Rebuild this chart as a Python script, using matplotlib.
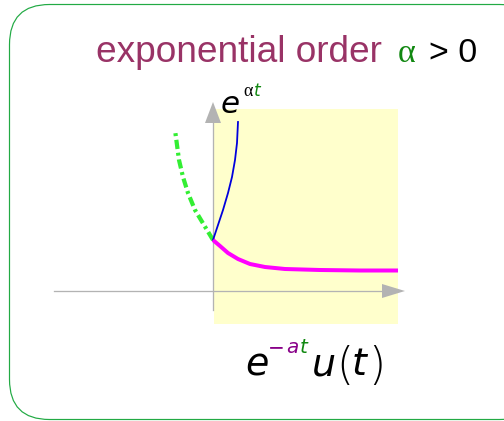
import matplotlib
matplotlib.use("Agg")
import matplotlib.pyplot as plt
from matplotlib.patches import FancyBboxPatch, Rectangle, Polygon

# ---- data (pixel space) ----
blue_x = [213, 218, 223, 228, 232, 235, 237, 238]
blue_y = [240, 225, 210, 193, 177, 160, 143, 122]
green_x = [213, 204, 195, 188, 183, 179, 177, 175]
green_y = [240, 225, 210, 193, 177, 160, 145, 130]
mag_x = [213, 220, 228, 238, 250, 265, 285, 320, 360, 398]
mag_y = [240, 246, 253, 259, 264, 267, 269, 270, 270.5, 270.5]

title_main = "exponential order"
title_alpha = "α"
title_rest = "> 0"

W, H = 504, 421
fig = plt.figure(figsize=(W / 72, H / 72), dpi=72)
ax = fig.add_axes([0, 0, 1, 1])
ax.set_xlim(0, W)
ax.set_ylim(H, 0)
ax.axis("off")

# rounded frame
frame = FancyBboxPatch((9.5, 4.5), 530, 415, boxstyle="round,pad=0,rounding_size=40",
                       fc="white", ec="#22aa44", lw=1.2, zorder=0)
ax.add_patch(frame)

# yellow region
ax.add_patch(Rectangle((214, 109), 184, 215, fc="#ffffcc", ec="none", zorder=1))

gray = "#b3b3b3"
# horizontal axis
ax.plot([54, 385], [291, 291], color=gray, lw=1.3, zorder=2)
ax.add_patch(Polygon([[382, 284], [405, 291], [382, 298]], closed=True, fc=gray, ec="none", zorder=2))
# vertical axis
ax.plot([213, 213], [310, 120], color=gray, lw=1.3, zorder=2)
ax.add_patch(Polygon([[205, 123], [213, 102], [221, 123]], closed=True, fc=gray, ec="none", zorder=2))

# curves
ax.plot(green_x, green_y, color="#33ee33", lw=4.2, dashes=(2.2, 0.9, 0.7, 0.9), zorder=3,
        solid_capstyle="butt", dash_capstyle="butt")
ax.plot(blue_x, blue_y, color="#0000dd", lw=1.8, zorder=4)
ax.plot(mag_x, mag_y, color="#ff00ff", lw=4, zorder=4, solid_capstyle="butt")

# title
ax.text(96, 62, title_main, color="#993366", fontsize=37, family="Liberation Sans",
        va="baseline", ha="left", zorder=5)
ax.text(398, 62, title_alpha, color="#118811", fontsize=34, family="Liberation Serif",
        va="baseline", ha="left", zorder=5)
ax.text(429, 62, title_rest, color="black", fontsize=34, family="Liberation Sans",
        va="baseline", ha="left", zorder=5)

# e^{alpha t} label
ax.text(221, 113, "e", color="black", fontsize=31, family="DejaVu Sans", style="italic",
        va="baseline", ha="left", zorder=5)
ax.text(243, 96, "α", color="black", fontsize=18, family="Liberation Serif",
        va="baseline", ha="left", zorder=5)
ax.text(254, 96, "t", color="#118811", fontsize=17, family="DejaVu Sans", style="italic",
        va="baseline", ha="left", zorder=5)

# e^{-at} u(t) label
ax.text(245, 375, "e", color="black", fontsize=38, family="DejaVu Sans", style="italic",
        va="baseline", ha="left", zorder=5)
ax.text(268, 353, "−", color="#880088", fontsize=20, family="DejaVu Sans",
        va="baseline", ha="left", zorder=5)
ax.text(286, 353, "a", color="#880088", fontsize=20, family="DejaVu Sans", style="italic",
        va="baseline", ha="left", zorder=5)
ax.text(300, 353, "t", color="#118811", fontsize=20, family="DejaVu Sans", style="italic",
        va="baseline", ha="left", zorder=5)
ax.text(312, 375, "u", color="black", fontsize=38, family="DejaVu Sans", style="italic",
        va="baseline", ha="left", zorder=5)
ax.text(336, 379, "(", color="black", fontsize=44, family="DejaVu Sans", fontweight="light",
        va="baseline", ha="left", zorder=5)
ax.text(352, 375, "t", color="black", fontsize=38, family="DejaVu Sans", style="italic",
        va="baseline", ha="left", zorder=5)
ax.text(368, 379, ")", color="black", fontsize=44, family="DejaVu Sans", fontweight="light",
        va="baseline", ha="left", zorder=5)

fig.savefig("out.png", dpi=72)
